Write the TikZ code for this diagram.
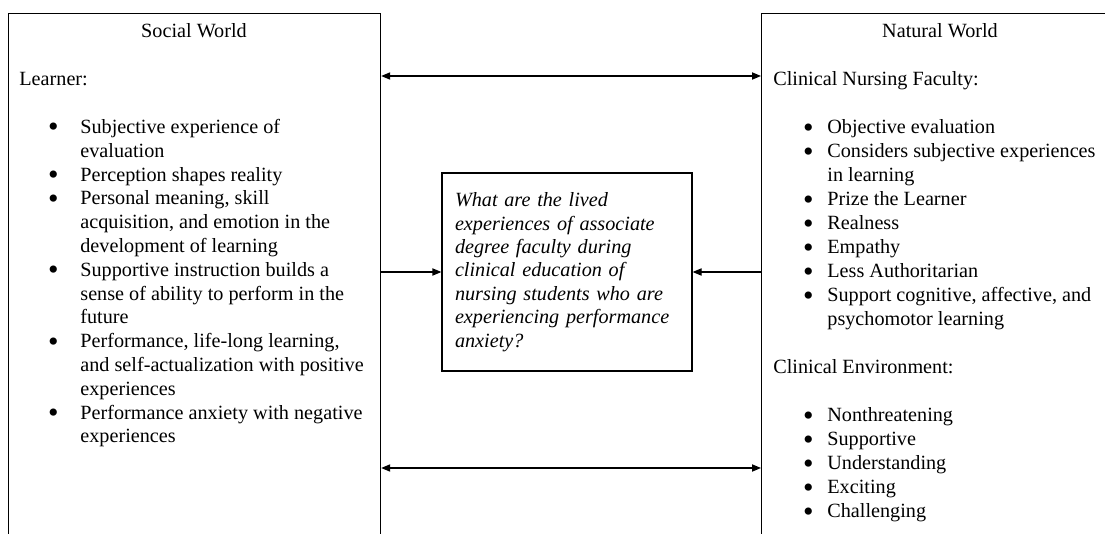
\documentclass[tikz,border=0pt]{standalone}
\usepackage{fontspec}
\setmainfont{Liberation Serif}
\usetikzlibrary{arrows.meta,positioning}
\newcommand{\bl}{\smash{\raisebox{-1.7pt}{\fontsize{15pt}{12pt}\selectfont\textbullet}}}

\begin{document}
\begin{tikzpicture}[x=0.5pt,y=-0.5pt,line cap=butt,line join=miter,
		>={Triangle[length=4.5pt,width=3.6pt]},font=\fontsize{10.1pt}{12pt}\selectfont,
		world/.style={draw,line width=0.6pt,rectangle,minimum height=280pt,anchor=north west,inner sep=0pt},
		worldtitle/.style={anchor=base,inner sep=0pt},
		content/.style={anchor=base west,inner sep=0pt},
		link/.style={line width=0.6pt}]
	\useasboundingbox (0,0) rectangle (1105,534);
	\clip (0,0) rectangle (1105,534);
	% the two worlds
	\node[world,minimum width=186pt] (social) at (8,13) {};
	\node[world,minimum width=179pt] (natural) at (761,13) {};
	\node[worldtitle] (socialtitle) at (194,38) {Social World};
	\node[worldtitle] (naturaltitle) at (940,38) {Natural World};
	\node[content,font=\fontsize{10.1pt}{11.9pt}\selectfont] (learner) at (19,86) {%
		\begin{tabular}[t]{@{\hspace{14.4pt}}p{16.1pt}@{}l@{}}
			\multicolumn{2}{@{}l@{}}{Learner:}\\
			&\\
			\bl & Subjective experience of\\
			& evaluation\\
			\bl & Perception shapes reality\\
			\bl & Personal meaning, skill\\
			& acquisition, and emotion in the\\
			& development of learning\\
			\bl & Supportive instruction builds a\\
			& sense of ability to perform in the\\
			& future\\
			\bl & Performance, life-long learning,\\
			& and self-actualization with positive\\
			& experiences\\
			\bl & Performance anxiety with negative\\
			& experiences
		\end{tabular}};
	\node[content] (faculty) at (773,86) {%
		\begin{tabular}[t]{@{\hspace{14.9pt}}p{12.1pt}@{}l@{}}
			\multicolumn{2}{@{}l@{}}{Clinical Nursing Faculty:}\\
			&\\
			\bl & Objective evaluation\\
			\bl & Considers subjective experiences\\
			& in learning\\
			\bl & Prize the Learner\\
			\bl & Realness\\
			\bl & Empathy\\
			\bl & Less Authoritarian\\
			\bl & Support cognitive, affective, and\\
			& psychomotor learning\\
			&\\
			\multicolumn{2}{@{}l@{}}{Clinical Environment:}\\
			&\\
			\bl & Nonthreatening\\
			\bl & Supportive\\
			\bl & Understanding\\
			\bl & Exciting\\
			\bl & Challenging
		\end{tabular}};
	% research question
	\node[draw,line width=0.6pt,inner sep=0pt,minimum width=125pt,minimum height=99pt,
		text width=112pt,align=left,font=\fontsize{10.1pt}{11.7pt}\selectfont\itshape]
		(question) at (567,272) {What are the lived\\ experiences of associate\\ degree faculty during\\
		clinical education of\\ nursing students who are\\ experiencing performance\\ anxiety?};
	\coordinate (upper) at (0,76);
	\coordinate (lower) at (0,468);
	\draw[link,<->] (social.east |- upper) -- (natural.west |- upper);
	\draw[link,<->] (social.east |- lower) -- (natural.west |- lower);
	\draw[link,->] (social.east |- question) -- (question.west);
	\draw[link,->] (natural.west |- question) -- (question.east);
\end{tikzpicture}
\end{document}
